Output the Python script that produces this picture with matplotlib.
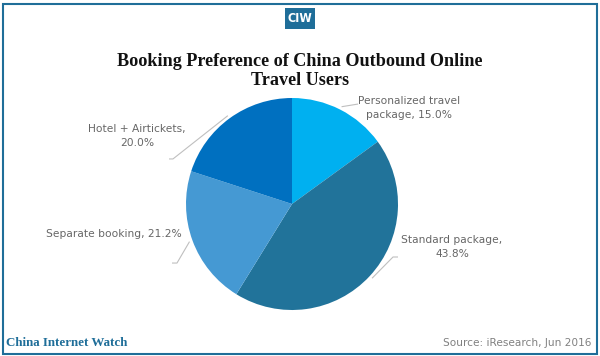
import matplotlib
matplotlib.use("Agg")
import matplotlib.pyplot as plt
import numpy as np
from matplotlib.patches import Rectangle

categories = ["Personalized travel\npackage, 15.0%", "Standard package,\n43.8%",
              "Separate booking, 21.2%", "Hotel + Airtickets,\n20.0%"]
values = [15.0, 43.8, 21.2, 20.0]
colors = ["#00B0F0", "#21739A", "#4599D3", "#0070C0"]
# label positions (data coords, pie radius 1) and elbow/end points for leader lines
label_pos = [(1.104, 0.906), (1.509, -0.406), (-1.679, -0.283), (-1.462, 0.642)]
elbows = [[(0.623, 0.943)], [(0.953, -0.50), (1.0, -0.50)],
          [(-1.085, -0.557), (-1.132, -0.557)], [(-1.123, 0.425), (-1.16, 0.425)]]

W, H = 600, 356
fig = plt.figure(figsize=(W / 100, H / 100), dpi=100)
fig.patch.set_facecolor("white")

frame_col = "#1F6E99"
# outer frame
fig.add_artist(Rectangle((2.5 / W, 2.5 / H), (W - 5.5) / W, (H - 6) / H, transform=fig.transFigure,
                         fill=False, edgecolor=frame_col, linewidth=1.5))
# CIW badge
fig.add_artist(Rectangle((285 / W, 1 - 29 / H), 30 / W, 21 / H, transform=fig.transFigure,
                         facecolor=frame_col, edgecolor="none"))
fig.text(300 / W, 1 - 18.5 / H, "CIW", color="white", fontsize=9, fontweight="bold",
         family="DejaVu Sans", fontstretch="condensed", ha="center", va="center")

# title
fig.text(300 / W, 1 - 71 / H, "Booking Preference of China Outbound Online\nTravel Users",
         ha="center", va="center", fontsize=13.1, fontweight="bold", family="Liberation Serif",
         color="#111111", linespacing=1.1)

# pie
cx, cy, r = 292, 204, 106
ax = fig.add_axes([(cx - r) / W, (H - cy - r) / H, 2 * r / W, 2 * r / H])
wedges, _ = ax.pie(values, colors=colors, startangle=90, counterclock=False,
                   wedgeprops=dict(linewidth=0))
ax.set_xlim(-1, 1)
ax.set_ylim(-1, 1)
ax.set_aspect("equal")
ax.axis("off")

for w, lab, lp, el in zip(wedges, categories, label_pos, elbows):
    ang = np.deg2rad((w.theta1 + w.theta2) / 2)
    sx, sy = 1.03 * np.cos(ang), 1.03 * np.sin(ang)
    xs = [sx] + [p[0] for p in el]
    ys = [sy] + [p[1] for p in el]
    ax.plot(xs, ys, color="#BFBFBF", linewidth=0.8, clip_on=False, solid_capstyle="butt")
    ax.text(lp[0], lp[1], lab, ha="center", va="center", fontsize=7.7, color="#666666",
            family="DejaVu Sans", clip_on=False, linespacing=1.4)

# footer
fig.text(6 / W, 1 - 343 / H, "China Internet Watch", ha="left", va="center", fontsize=9.4,
         fontweight="bold", family="Liberation Serif", color=frame_col)
fig.text(591 / W, 1 - 343 / H, "Source: iResearch, Jun 2016", ha="right", va="center",
         fontsize=7.6, family="DejaVu Sans", color="#808080")

fig.savefig("out.png", dpi=100, facecolor="white")
